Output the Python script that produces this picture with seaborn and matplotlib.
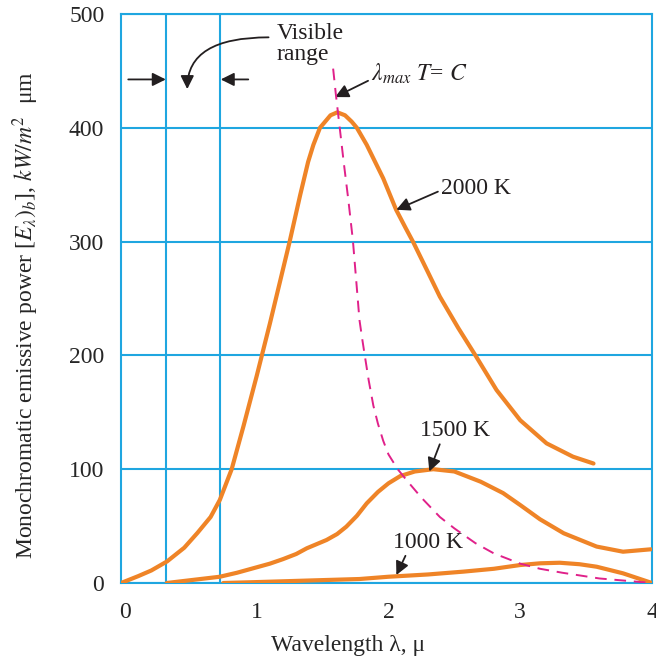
import matplotlib
matplotlib.use('Agg')
import matplotlib.pyplot as plt
import seaborn as sns

# wavelength (micron) vs monochromatic emissive power (kW/m2 um)
x_2000 = [-0.03, 0.1, 0.2, 0.32, 0.45, 0.55, 0.65, 0.72, 0.81, 0.9, 1.0, 1.1, 1.25, 1.33, 1.39,
          1.43, 1.48, 1.52, 1.56, 1.612, 1.67, 1.72, 1.76, 1.835, 1.96, 2.058, 2.13, 2.19, 2.3,
          2.39, 2.53, 2.66, 2.82, 3.0, 3.2, 3.4, 3.556]
y_2000 = [0, 6, 11, 19, 31, 44, 58, 73, 100, 138, 182, 228, 300, 341, 370,
          385, 400, 405.5, 411, 413.6, 411, 405.5, 400, 385, 355.6, 328, 312, 299, 273,
          251.6, 224, 200, 169.6, 143, 122.7, 111, 105]

x_1500 = [0.317, 0.5, 0.72, 0.85, 1.0, 1.1, 1.2, 1.3, 1.38, 1.53, 1.61, 1.68, 1.76, 1.835, 1.92,
          2.0, 2.09, 2.2, 2.34, 2.5, 2.7, 2.87, 3.0, 3.15, 3.33, 3.58, 3.78, 3.99]
y_1500 = [0, 2.5, 5.5, 9, 13.8, 17, 21, 25.5, 30.5, 37.8, 43, 49.5, 59, 70, 80,
          87.6, 94, 98, 100, 98, 89, 79, 68.5, 56, 43.7, 32, 27.5, 29.6]

x_1000 = [0.746, 1.0, 1.4, 1.78, 2.0, 2.3, 2.57, 2.8, 3.0, 3.15, 3.3, 3.45, 3.58, 3.78, 4.0]
y_1000 = [0, 0.8, 2.2, 3.5, 5.5, 7.5, 10, 12.5, 15.8, 17.3, 17.8, 16.5, 14.3, 8.5, 0]

# lambda_max * T = C locus
x_max = [1.58, 1.60, 1.62, 1.66, 1.695, 1.73, 1.78, 1.80, 1.82, 1.85, 1.885, 1.92, 1.96, 2.0,
         2.07, 2.14, 2.25, 2.39, 2.5, 2.66, 2.8, 3.0, 3.15, 3.32, 3.6, 4.0]
y_max = [452, 430, 410, 370, 337, 301, 231, 215, 200, 178, 156, 140, 125, 113,
         100, 90, 75, 58, 48, 35, 26, 17, 12.5, 9, 4, 0]

x_ticks = [0, 1, 2, 3, 4]
y_ticks = [0, 100, 200, 300, 400, 500]
grid_x = [0.31, 0.72, 1, 2, 3]

BLUE = '#1fa6e0'
ORANGE = '#ef8427'
MAGENTA = '#e0218a'
INK = '#231f20'

sns.set_style('white')
plt.rcParams['font.family'] = ['Liberation Serif', 'DejaVu Serif']
plt.rcParams['mathtext.fontset'] = 'stix'

fig = plt.figure(figsize=(6.56, 6.62), dpi=100)
ax = fig.add_axes([121 / 656, 1 - 583 / 662, 531 / 656, 569 / 662])

lw = 3.0
sns.lineplot(x=x_2000, y=y_2000, ax=ax, color=ORANGE, linewidth=lw, sort=False, estimator=None, zorder=3)
sns.lineplot(x=x_1500, y=y_1500, ax=ax, color=ORANGE, linewidth=lw, sort=False, estimator=None, zorder=3)
sns.lineplot(x=x_1000, y=y_1000, ax=ax, color=ORANGE, linewidth=lw, sort=False, estimator=None, zorder=3)
sns.lineplot(x=x_max, y=y_max, ax=ax, color=MAGENTA, linewidth=1.4, sort=False, estimator=None,
             linestyle=(0, (6, 4)), zorder=4)

ax.set_xlim(-0.03, 4)
ax.set_ylim(0, 500)
ax.set_xticks(x_ticks)
ax.set_xticks(grid_x, minor=True)
ax.set_yticks(y_ticks)
ax.tick_params(which='both', length=0)
ax.tick_params(axis='x', pad=14, labelsize=17)
ax.tick_params(axis='y', pad=12, labelsize=17)
ax.grid(True, which='minor', axis='x', color=BLUE, linewidth=1.5)
ax.grid(True, which='major', axis='y', color=BLUE, linewidth=1.5)
ax.grid(False, which='major', axis='x')
for s in ax.spines.values():
    s.set_color(BLUE)
    s.set_linewidth(1.5)

ax.set_xlabel('Wavelength λ, μ', fontsize=17)
ax.xaxis.set_label_coords((348 - 121) / 531, -52 / 569)
ax.set_ylabel(r'Monochromatic emissive power [$E_{\lambda})_{b}$], $kW/m^{2}$  μm', fontsize=17)
ax.yaxis.set_label_coords(-80 / 531, (583 - 315) / 569)

arrow = dict(arrowstyle='-|>', color=INK, lw=1.3, mutation_scale=20, shrinkA=0, shrinkB=0)

# visible range
ax.text(1.15, 474, 'Visible\nrange', fontsize=17, ha='left', va='center', linespacing=1.0, color=INK)
ax.annotate('', xy=(0.473, 434), xytext=(1.09, 479.5),
            arrowprops=dict(arrow, connectionstyle='angle3,angleA=0,angleB=90'))
ax.annotate('', xy=(0.31, 442.5), xytext=(0.025, 442.5), arrowprops=arrow)
ax.annotate('', xy=(0.727, 442.5), xytext=(0.936, 442.5), arrowprops=arrow)

# labels
ax.annotate(r'$\lambda_{max}$ $T$= $C$', xy=(1.595, 427), xytext=(1.87, 447), fontsize=17,
            ha='left', va='center', color=INK, arrowprops=dict(arrow, relpos=(0, 0.3)))
ax.annotate('2000 K', xy=(2.06, 328), xytext=(2.40, 347), fontsize=17,
            ha='left', va='center', color=INK, arrowprops=dict(arrow, relpos=(0, 0.4)))
ax.annotate('1500 K', xy=(2.31, 98), xytext=(2.505, 134), fontsize=17,
            ha='center', va='center', color=INK, arrowprops=dict(arrow, relpos=(0.3, 0)))
ax.annotate('1000 K', xy=(2.06, 7), xytext=(2.30, 36), fontsize=17,
            ha='center', va='center', color=INK, arrowprops=dict(arrow, relpos=(0.2, 0)))

plt.savefig('out.png', dpi=100)
